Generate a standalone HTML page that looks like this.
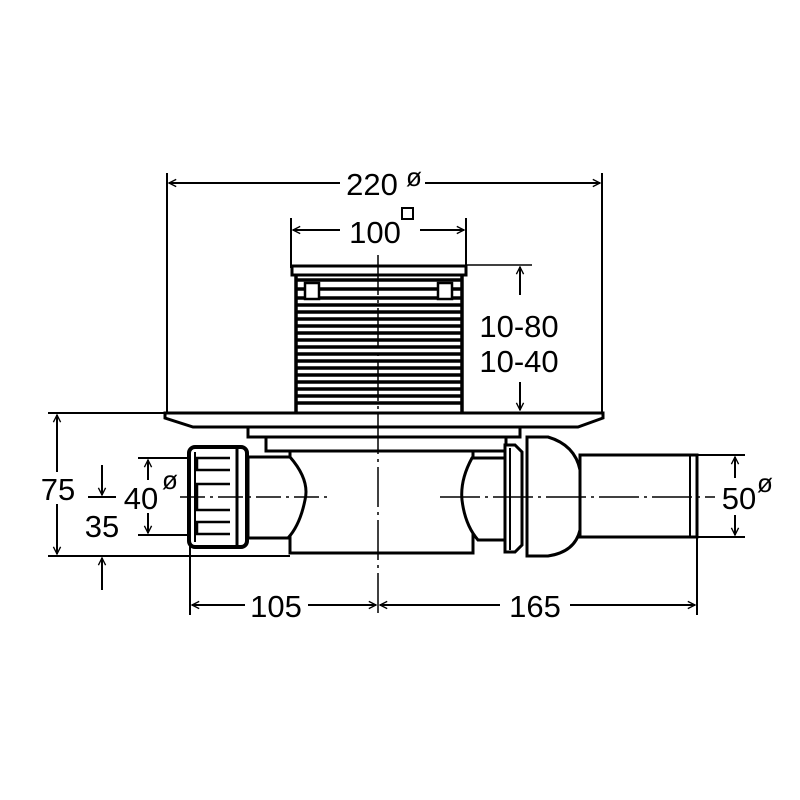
<!DOCTYPE html>
<html><head><style>
html,body{margin:0;padding:0;background:#fff;}
svg{display:block;}
text{font-family:"Liberation Sans",sans-serif;fill:#000;}
</style></head><body>
<svg width="800" height="800" viewBox="0 0 800 800" xmlns="http://www.w3.org/2000/svg">
<defs>
<marker id="a" viewBox="0 0 10 10" refX="9" refY="5" markerWidth="9" markerHeight="9" orient="auto-start-reverse" markerUnits="userSpaceOnUse">
<path d="M1,1 L9,5 L1,9" fill="none" stroke="#000" stroke-width="1.5"/>
</marker>
</defs>
<g stroke="#000" fill="none">
<line x1="167" y1="173" x2="167" y2="413" stroke-width="2"/>
<line x1="602" y1="173" x2="602" y2="413" stroke-width="2"/>
<line x1="169" y1="183" x2="340" y2="183" stroke-width="2" marker-start="url(#a)"/>
<line x1="425" y1="183" x2="600" y2="183" stroke-width="2" marker-end="url(#a)"/>
<line x1="291" y1="218" x2="291" y2="268" stroke-width="2"/>
<line x1="466" y1="218" x2="466" y2="268" stroke-width="2"/>
<line x1="293" y1="230" x2="340" y2="230" stroke-width="2" marker-start="url(#a)"/>
<line x1="420" y1="230" x2="464" y2="230" stroke-width="2" marker-end="url(#a)"/>
<rect x="292" y="266" width="174" height="9" stroke-width="3"/>
<line x1="466" y1="265" x2="532" y2="265" stroke-width="1.5"/>
<line x1="296" y1="275" x2="296" y2="412" stroke-width="3.5"/>
<line x1="462" y1="275" x2="462" y2="412" stroke-width="3.5"/>
<g stroke-width="3.5">
<line x1="296" y1="280" x2="462" y2="280"/>
<line x1="296" y1="289" x2="462" y2="289"/>
<line x1="296" y1="298" x2="462" y2="298"/>
<line x1="296" y1="305" x2="462" y2="305"/>
<line x1="296" y1="312" x2="462" y2="312"/>
<line x1="296" y1="319" x2="462" y2="319"/>
<line x1="296" y1="326" x2="462" y2="326"/>
<line x1="296" y1="333" x2="462" y2="333"/>
<line x1="296" y1="340" x2="462" y2="340"/>
<line x1="296" y1="347" x2="462" y2="347"/>
<line x1="296" y1="354" x2="462" y2="354"/>
<line x1="296" y1="361" x2="462" y2="361"/>
<line x1="296" y1="368" x2="462" y2="368"/>
<line x1="296" y1="375" x2="462" y2="375"/>
<line x1="296" y1="382" x2="462" y2="382"/>
<line x1="296" y1="389" x2="462" y2="389"/>
<line x1="296" y1="396" x2="462" y2="396"/>
<line x1="296" y1="403" x2="462" y2="403"/>
</g>
<rect x="305" y="283" width="14" height="16" fill="#fff" stroke-width="2.5"/>
<rect x="438" y="283" width="14" height="16" fill="#fff" stroke-width="2.5"/>
<line x1="520" y1="295" x2="520" y2="267" stroke-width="2" marker-end="url(#a)"/>
<line x1="520" y1="382" x2="520" y2="410" stroke-width="2" marker-end="url(#a)"/>
<path d="M165,413 L603,413 L603,418 L578,427 L193,427 L165,418 Z" stroke-width="3" fill="#fff"/>
<rect x="248" y="427" width="272" height="10" stroke-width="3" fill="#fff"/>
<rect x="266" y="437" width="240" height="14" stroke-width="3" fill="#fff"/>
<path d="M290,451 L473,451 L473,553 L290,553 Z" stroke-width="3" fill="#fff"/>
<path d="M248,457 L290,457 Q310,480 305,500 Q300,525 288,538 L248,538 Z" stroke-width="3" fill="#fff"/>
<path d="M505,458 L472,458 Q460,480 462,500 Q465,525 478,540 L505,540 Z" stroke-width="3" fill="#fff"/>
<path d="M505,445 L515,445 L522,452 L522,545 L515,552 L505,552 Z" stroke-width="3" fill="#fff"/>
<line x1="510" y1="448" x2="510" y2="550" stroke-width="2"/>
<path d="M527,437 L548,437 Q575,445 580,470 L580,530 Q575,552 548,556 L527,556 Z" stroke-width="3" fill="#fff"/>
<rect x="580" y="455" width="117" height="82" stroke-width="3" fill="#fff"/>
<line x1="690" y1="455" x2="690" y2="537" stroke-width="2"/>
<rect x="189" y="447" width="58" height="100" rx="6" stroke-width="4" fill="#fff"/>
<line x1="237" y1="449" x2="237" y2="545" stroke-width="3"/>
<line x1="195" y1="452" x2="195" y2="542" stroke-width="2"/>
<path d="M230,458 L197,458 L197,470 L230,470" stroke-width="2.5"/>
<path d="M230,484 L197,484 L197,510 L230,510" stroke-width="2.5"/>
<path d="M230,522 L197,522 L197,534 L230,534" stroke-width="2.5"/>
<line x1="378" y1="255" x2="378" y2="615" stroke-width="1.5" stroke-dasharray="40,5,3,5"/>
<line x1="180" y1="497" x2="330" y2="497" stroke-width="1.5" stroke-dasharray="25,5,3,5"/>
<line x1="440" y1="497" x2="715" y2="497" stroke-width="1.5" stroke-dasharray="40,5,3,5"/>
<line x1="48" y1="413" x2="165" y2="413" stroke-width="2"/>
<line x1="48" y1="556" x2="290" y2="556" stroke-width="2"/>
<line x1="57" y1="415" x2="57" y2="554" stroke-width="2" marker-start="url(#a)" marker-end="url(#a)"/>
<line x1="102" y1="465" x2="102" y2="495" stroke-width="2" marker-end="url(#a)"/>
<line x1="88" y1="497" x2="116" y2="497" stroke-width="2"/>
<line x1="102" y1="590" x2="102" y2="558" stroke-width="2" marker-end="url(#a)"/>
<line x1="138" y1="458" x2="190" y2="458" stroke-width="2"/>
<line x1="138" y1="535" x2="190" y2="535" stroke-width="2"/>
<line x1="148" y1="480" x2="148" y2="460" stroke-width="2" marker-end="url(#a)"/>
<line x1="148" y1="513" x2="148" y2="533" stroke-width="2" marker-end="url(#a)"/>
<line x1="697" y1="455" x2="745" y2="455" stroke-width="2"/>
<line x1="697" y1="537" x2="745" y2="537" stroke-width="2"/>
<line x1="735" y1="478" x2="735" y2="457" stroke-width="2" marker-end="url(#a)"/>
<line x1="735" y1="515" x2="735" y2="535" stroke-width="2" marker-end="url(#a)"/>
<line x1="190" y1="545" x2="190" y2="615" stroke-width="2"/>
<line x1="697" y1="537" x2="697" y2="615" stroke-width="2"/>
<line x1="192" y1="605" x2="245" y2="605" stroke-width="2" marker-start="url(#a)"/>
<line x1="308" y1="605" x2="376" y2="605" stroke-width="2" marker-end="url(#a)"/>
<line x1="380" y1="605" x2="500" y2="605" stroke-width="2" marker-start="url(#a)"/>
<line x1="570" y1="605" x2="695" y2="605" stroke-width="2" marker-end="url(#a)"/>
<rect x="402" y="208" width="11" height="11" stroke-width="2"/>
</g>
<rect x="40" y="472" width="34" height="32" fill="#fff"/>
<g font-size="31" text-anchor="middle">
<text x="372" y="195">220</text>
<text x="414" y="186" font-size="26">ø</text>
<text x="375" y="243">100</text>
<text x="519" y="337">10-80</text>
<text x="519" y="372">10-40</text>
<text x="58" y="500">75</text>
<text x="102" y="537">35</text>
<text x="141" y="509">40</text>
<text x="170" y="489" font-size="26">ø</text>
<text x="739" y="509">50</text>
<text x="765" y="492" font-size="26">ø</text>
<text x="276" y="617">105</text>
<text x="535" y="617">165</text>
</g>
</svg>
</body></html>
